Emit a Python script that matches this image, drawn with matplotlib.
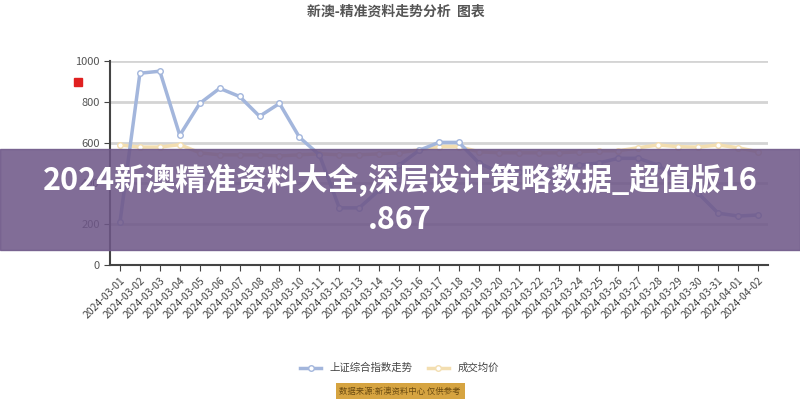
import matplotlib
matplotlib.use("Agg")
import matplotlib.pyplot as plt
from matplotlib.patches import Rectangle

plt.rcParams['font.family'] = ['Noto Sans CJK SC', 'DejaVu Sans']

# 数据
dates = ["2024-03-%02d" % d for d in range(1, 32)] + ["2024-04-01", "2024-04-02"]
series_blue = [210, 940, 950, 636, 792, 866, 826, 729, 792, 626, 540,
               280, 280, 367, 489, 562, 601, 601, 500, 455, 455, 465,
               475, 489, 500, 523, 523, 489, 416, 352, 254, 240, 245]
series_gold = [588, 578, 578, 590, 550, 540, 540, 540, 535, 540, 545,
               540, 540, 545, 550, 565, 580, 580, 555, 550, 550, 550,
               550, 555, 560, 560, 575, 588, 580, 578, 588, 575, 555]
y_ticks = [0, 200, 400, 600, 800, 1000]

title_text = "新澳-精准资料走势分析  图表"
legend_labels = ["上证综合指数走势", "成交均价"]
banner_text = "2024新澳精准资料大全,深层设计策略数据_超值版16\n.867"
badge_text = "数据来源:新澳资料中心 仅供参考"

fig = plt.figure(figsize=(8, 4), dpi=100, facecolor='white')
ax = fig.add_axes([0.1375, 0.3375, 0.8225, 0.51])

x = list(range(len(dates)))
ax.plot(x, series_blue, color='#a3b6dc', lw=2.5, marker='o', ms=4,
        mfc='white', mec='#a3b6dc', mew=1, label=legend_labels[0], zorder=3)
ax.plot(x, series_gold, color='#f3deb0', lw=2.5, marker='o', ms=4,
        mfc='white', mec='#f3deb0', mew=1, label=legend_labels[1], zorder=2)

ax.set_xlim(-0.5, len(dates) - 0.5)
ax.set_ylim(0, 1000)
ax.set_yticks(y_ticks)
ax.yaxis.grid(True, color='#d4d4d4', lw=2)
ax.set_axisbelow(True)
ax.set_xticks(x)
ax.set_xticklabels(dates, rotation=45, ha='right', rotation_mode='anchor',
                   fontsize=7.5, color='#444444')
ax.tick_params(axis='y', labelsize=8, labelcolor='#555555', color='#444444', length=4)
ax.tick_params(axis='x', color='#444444', length=4)
for s in ['top', 'right']:
    ax.spines[s].set_visible(False)
for s in ['left', 'bottom']:
    ax.spines[s].set_color('#444444')
    ax.spines[s].set_linewidth(1.5)

fig.text(0.495, 0.97, title_text, ha='center', va='center', fontsize=10,
         fontweight='bold', color='#555555')

# 左上角红色小标记
fig.patches.append(Rectangle((0.092, 0.785), 0.01, 0.02, transform=fig.transFigure,
                             color='#e02020', zorder=5))

ax.legend(loc='center', bbox_to_anchor=(0.44, -0.505), ncol=2, frameon=False,
          fontsize=7.5, labelcolor='#444444', handlelength=2, columnspacing=1.5)

fig.text(0.5, 0.0225, badge_text, ha='center', va='center', fontsize=6,
         color='#6a4a10', bbox=dict(boxstyle='square,pad=0.45', fc='#d6a441', ec='none'))

# 紫色横幅
fig.patches.append(Rectangle((0, 0.375), 1, 0.252, transform=fig.transFigure,
                             color='#6e5788', alpha=0.87, zorder=10))
fig.text(0.5, 0.5, banner_text, ha='center', va='center', fontsize=22,
         fontweight='bold', color='white', linespacing=1.3, zorder=11)

fig.savefig("out.png", dpi=100, facecolor='white')
